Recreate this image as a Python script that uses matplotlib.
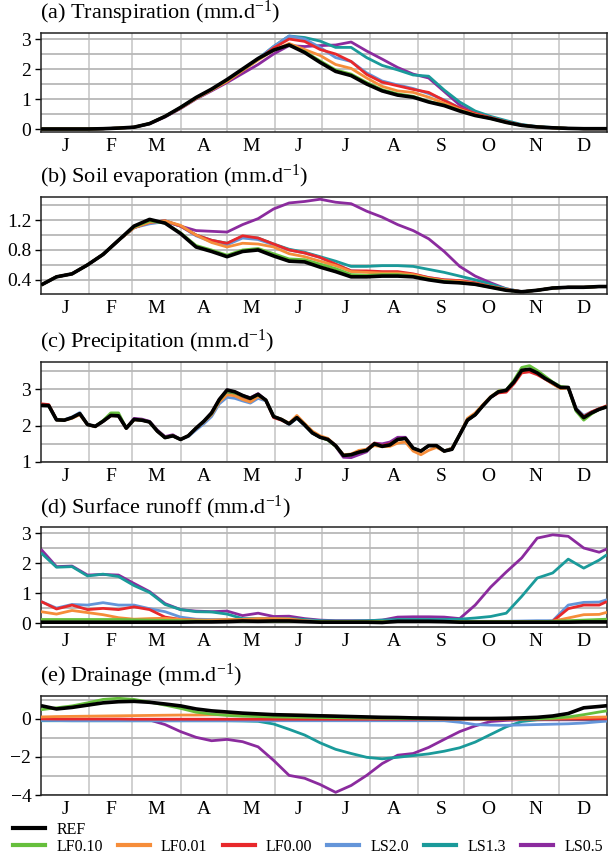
import numpy as np
import matplotlib
matplotlib.use('Agg')
import matplotlib.pyplot as plt
from matplotlib.lines import Line2D

# fonts: serif (Times-like) everywhere, incl. the d^-1 superscript
plt.rcParams['font.family'] = ['Liberation Serif', 'DejaVu Serif']
plt.rcParams['mathtext.fontset'] = 'custom'
plt.rcParams['mathtext.rm'] = 'Liberation Serif'
plt.rcParams['mathtext.it'] = 'Liberation Serif:italic'
plt.rcParams['axes.unicode_minus'] = True

# sample days (day of year)
days10 = np.append(np.arange(0, 361, 10), 365)
days5 = np.arange(0, 366, 5)

month_starts = [0, 31, 59, 90, 120, 151, 181, 212, 243, 273, 304, 334, 365]
month_labels = ['J', 'F', 'M', 'A', 'M', 'J', 'J', 'A', 'S', 'O', 'N', 'D']

runs = ['REF', 'LF0.10', 'LF0.01', 'LF0.00', 'LS2.0', 'LS1.3', 'LS0.5']
colors = ['#000000', '#66bf3c', '#f68d3a', '#e8282b', '#6495d9', '#1a9a9a', '#8b2b9e']

# (a) transpiration, 10-day samples
trans_ref = [0.0, 0.0, 0.0, 0.0, 0.01, 0.03, 0.06, 0.18, 0.42, 0.72, 1.05, 1.33, 1.65, 2.0, 2.35, 2.63, 2.8, 2.55, 2.22, 1.92,
             1.78, 1.5, 1.27, 1.13, 1.06, 0.9, 0.78, 0.6, 0.45, 0.35, 0.22, 0.12, 0.07, 0.04, 0.02, 0.01, 0.01, 0.01]
trans_lf010 = [0.0, 0.0, 0.0, 0.0, 0.01, 0.03, 0.06, 0.18, 0.42, 0.72, 1.04, 1.32, 1.63, 1.98, 2.33, 2.63, 2.8, 2.58, 2.27, 1.97,
               1.83, 1.55, 1.31, 1.17, 1.09, 0.92, 0.8, 0.62, 0.46, 0.35, 0.22, 0.12, 0.07, 0.04, 0.02, 0.01, 0.01, 0.01]
trans_lf001 = [0.0, 0.0, 0.0, 0.0, 0.01, 0.03, 0.06, 0.18, 0.42, 0.7, 1.02, 1.3, 1.59, 1.95, 2.3, 2.62, 2.85, 2.65, 2.45, 2.15,
               2.02, 1.7, 1.42, 1.27, 1.22, 1.06, 0.86, 0.65, 0.48, 0.36, 0.23, 0.12, 0.07, 0.04, 0.02, 0.01, 0.01, 0.01]
trans_lf000 = [0.0, 0.0, 0.0, 0.0, 0.01, 0.03, 0.06, 0.18, 0.42, 0.7, 1.02, 1.3, 1.59, 1.95, 2.32, 2.7, 3.0, 2.92, 2.65, 2.5,
               2.25, 1.82, 1.56, 1.44, 1.32, 1.22, 0.95, 0.7, 0.52, 0.38, 0.24, 0.13, 0.07, 0.04, 0.02, 0.01, 0.01, 0.01]
trans_ls20 = [0.0, 0.0, 0.0, 0.0, 0.01, 0.03, 0.06, 0.18, 0.42, 0.7, 1.02, 1.3, 1.6, 1.96, 2.34, 2.75, 3.1, 3.0, 2.72, 2.38,
              2.25, 1.87, 1.6, 1.47, 1.35, 1.18, 0.97, 0.7, 0.52, 0.38, 0.24, 0.13, 0.07, 0.04, 0.02, 0.01, 0.01, 0.01]
trans_ls13 = [0.0, 0.0, 0.0, 0.0, 0.01, 0.03, 0.06, 0.18, 0.42, 0.7, 1.02, 1.3, 1.6, 1.96, 2.34, 2.75, 3.1, 3.05, 2.93, 2.72,
              2.72, 2.38, 2.12, 1.97, 1.8, 1.76, 1.3, 0.9, 0.6, 0.42, 0.28, 0.15, 0.08, 0.05, 0.02, 0.01, 0.01, 0.01]
trans_ls05 = [0.0, 0.0, 0.0, 0.0, 0.01, 0.03, 0.06, 0.17, 0.4, 0.68, 1.0, 1.27, 1.55, 1.85, 2.15, 2.5, 2.78, 2.75, 2.78, 2.8,
              2.9, 2.6, 2.33, 2.05, 1.83, 1.7, 1.25, 0.8, 0.52, 0.38, 0.25, 0.13, 0.07, 0.04, 0.02, 0.01, 0.01, 0.01]

# (b) soil evaporation, 10-day samples
evap_ref = [0.33, 0.44, 0.48, 0.6, 0.74, 0.93, 1.12, 1.21, 1.16, 1.02, 0.84, 0.78, 0.71, 0.78, 0.8, 0.72, 0.65, 0.64, 0.57, 0.51,
            0.44, 0.44, 0.45, 0.45, 0.44, 0.4, 0.37, 0.36, 0.34, 0.3, 0.26, 0.24, 0.26, 0.29, 0.3, 0.3, 0.31, 0.31]
evap_lf010 = [0.33, 0.44, 0.48, 0.6, 0.74, 0.93, 1.11, 1.19, 1.16, 1.03, 0.86, 0.8, 0.73, 0.8, 0.82, 0.75, 0.68, 0.67, 0.61, 0.55,
              0.47, 0.46, 0.47, 0.47, 0.45, 0.41, 0.38, 0.36, 0.34, 0.3, 0.26, 0.24, 0.26, 0.29, 0.3, 0.3, 0.31, 0.31]
evap_lf001 = [0.33, 0.44, 0.48, 0.6, 0.74, 0.93, 1.1, 1.17, 1.19, 1.13, 1.0, 0.9, 0.84, 0.89, 0.88, 0.84, 0.75, 0.71, 0.65, 0.59,
              0.51, 0.5, 0.49, 0.49, 0.47, 0.42, 0.39, 0.38, 0.35, 0.31, 0.27, 0.24, 0.26, 0.29, 0.3, 0.3, 0.31, 0.31]
evap_lf000 = [0.33, 0.44, 0.48, 0.6, 0.74, 0.93, 1.1, 1.17, 1.19, 1.12, 1.0, 0.93, 0.89, 0.99, 0.96, 0.88, 0.8, 0.76, 0.7, 0.61,
              0.52, 0.52, 0.51, 0.51, 0.48, 0.43, 0.4, 0.39, 0.36, 0.31, 0.27, 0.24, 0.26, 0.29, 0.3, 0.3, 0.31, 0.31]
evap_ls20 = [0.33, 0.44, 0.48, 0.6, 0.74, 0.93, 1.1, 1.15, 1.18, 1.12, 0.99, 0.91, 0.87, 0.96, 0.94, 0.87, 0.8, 0.76, 0.7, 0.61,
             0.52, 0.51, 0.5, 0.5, 0.47, 0.43, 0.4, 0.39, 0.36, 0.31, 0.27, 0.24, 0.26, 0.29, 0.3, 0.3, 0.31, 0.31]
evap_ls13 = [0.33, 0.44, 0.48, 0.6, 0.74, 0.93, 1.1, 1.17, 1.19, 1.12, 1.0, 0.93, 0.89, 0.98, 0.96, 0.88, 0.81, 0.77, 0.71, 0.65,
             0.58, 0.58, 0.59, 0.59, 0.58, 0.54, 0.5, 0.45, 0.4, 0.34, 0.28, 0.24, 0.26, 0.29, 0.3, 0.3, 0.31, 0.31]
evap_ls05 = [0.33, 0.44, 0.48, 0.6, 0.74, 0.93, 1.1, 1.17, 1.19, 1.12, 1.06, 1.05, 1.04, 1.14, 1.22, 1.35, 1.43, 1.45, 1.48, 1.44,
             1.42, 1.32, 1.24, 1.14, 1.06, 0.95, 0.78, 0.58, 0.45, 0.36, 0.28, 0.24, 0.26, 0.29, 0.3, 0.3, 0.31, 0.31]

# (c) precipitation, 5-day samples
precip_ref = [2.56, 2.55, 2.16, 2.15, 2.22, 2.33, 2.03, 1.98, 2.12, 2.28, 2.27, 1.93, 2.17, 2.15, 2.10, 1.85, 1.67, 1.72, 1.62, 1.72,
              1.93, 2.12, 2.35, 2.72, 2.98, 2.93, 2.83, 2.75, 2.86, 2.70, 2.25, 2.17, 2.05, 2.22, 2.02, 1.80, 1.68, 1.62, 1.45, 1.18,
              1.20, 1.27, 1.32, 1.50, 1.43, 1.47, 1.62, 1.65, 1.38, 1.30, 1.45, 1.45, 1.30, 1.35, 1.75, 2.15, 2.30, 2.55, 2.78, 2.93,
              2.97, 3.20, 3.52, 3.55, 3.45, 3.30, 3.18, 3.05, 3.05, 2.45, 2.22, 2.35, 2.45, 2.52]
precip_lf010 = [2.56, 2.55, 2.16, 2.15, 2.22, 2.33, 2.03, 1.98, 2.14, 2.35, 2.35, 1.93, 2.17, 2.15, 2.10, 1.85, 1.67, 1.72, 1.62, 1.72,
                1.93, 2.12, 2.33, 2.7, 2.95, 2.9, 2.82, 2.75, 2.85, 2.7, 2.25, 2.17, 2.05, 2.22, 2.02, 1.8, 1.68, 1.6, 1.43, 1.18,
                1.2, 1.27, 1.32, 1.5, 1.43, 1.47, 1.62, 1.65, 1.38, 1.3, 1.45, 1.45, 1.3, 1.35, 1.75, 2.15, 2.3, 2.55, 2.78, 2.95,
                2.98, 3.25, 3.6, 3.65, 3.52, 3.36, 3.2, 3.08, 3.05, 2.4, 2.15, 2.32, 2.45, 2.52]
precip_lf001 = [2.56, 2.55, 2.16, 2.15, 2.2, 2.3, 2.03, 1.97, 2.12, 2.27, 2.27, 1.93, 2.16, 2.15, 2.1, 1.85, 1.67, 1.72, 1.62, 1.72,
                1.92, 2.1, 2.3, 2.65, 2.85, 2.82, 2.72, 2.65, 2.8, 2.7, 2.25, 2.18, 2.07, 2.28, 2.06, 1.85, 1.72, 1.65, 1.45, 1.2,
                1.22, 1.32, 1.35, 1.45, 1.42, 1.43, 1.52, 1.55, 1.3, 1.2, 1.32, 1.4, 1.3, 1.38, 1.75, 2.2, 2.35, 2.58, 2.8, 2.95,
                2.97, 3.2, 3.5, 3.55, 3.45, 3.3, 3.15, 3.02, 3.04, 2.45, 2.22, 2.35, 2.45, 2.52]
precip_lf000 = [2.6, 2.58, 2.16, 2.15, 2.22, 2.33, 2.03, 1.98, 2.12, 2.28, 2.27, 1.93, 2.17, 2.15, 2.1, 1.85, 1.67, 1.72, 1.62, 1.72,
                1.93, 2.12, 2.35, 2.72, 2.95, 2.9, 2.8, 2.73, 2.85, 2.7, 2.22, 2.15, 2.05, 2.25, 2.03, 1.82, 1.7, 1.63, 1.45, 1.18,
                1.2, 1.27, 1.35, 1.52, 1.45, 1.5, 1.62, 1.65, 1.38, 1.3, 1.45, 1.45, 1.3, 1.35, 1.75, 2.15, 2.3, 2.55, 2.78, 2.9,
                2.92, 3.15, 3.45, 3.48, 3.4, 3.28, 3.15, 3.03, 3.05, 2.45, 2.25, 2.38, 2.47, 2.55]
precip_ls20 = [2.55, 2.55, 2.16, 2.16, 2.24, 2.36, 2.03, 1.98, 2.12, 2.28, 2.27, 1.93, 2.17, 2.15, 2.1, 1.85, 1.67, 1.72, 1.62, 1.7,
               1.88, 2.05, 2.25, 2.6, 2.78, 2.75, 2.68, 2.62, 2.75, 2.68, 2.25, 2.17, 2.03, 2.2, 2.0, 1.8, 1.68, 1.62, 1.45, 1.18,
               1.2, 1.27, 1.32, 1.5, 1.43, 1.47, 1.62, 1.65, 1.38, 1.3, 1.45, 1.45, 1.3, 1.38, 1.75, 2.15, 2.3, 2.55, 2.78, 2.93,
               2.97, 3.2, 3.5, 3.55, 3.45, 3.3, 3.18, 3.05, 3.05, 2.48, 2.28, 2.38, 2.45, 2.52]
precip_ls13 = [2.56, 2.55, 2.16, 2.15, 2.22, 2.33, 2.03, 1.98, 2.12, 2.28, 2.27, 1.93, 2.17, 2.15, 2.1, 1.85, 1.67, 1.72, 1.62, 1.72,
               1.92, 2.1, 2.32, 2.68, 2.88, 2.85, 2.78, 2.7, 2.83, 2.7, 2.25, 2.17, 2.05, 2.22, 2.02, 1.8, 1.68, 1.62, 1.45, 1.18,
               1.2, 1.27, 1.32, 1.5, 1.43, 1.47, 1.62, 1.65, 1.38, 1.3, 1.45, 1.45, 1.3, 1.38, 1.75, 2.15, 2.3, 2.55, 2.78, 2.93,
               2.97, 3.2, 3.52, 3.55, 3.45, 3.3, 3.18, 3.05, 3.05, 2.45, 2.22, 2.35, 2.45, 2.52]
precip_ls05 = [2.56, 2.55, 2.16, 2.15, 2.22, 2.33, 2.03, 1.98, 2.12, 2.28, 2.27, 1.93, 2.2, 2.18, 2.12, 1.88, 1.7, 1.75, 1.62, 1.72,
               1.93, 2.12, 2.35, 2.72, 2.98, 2.93, 2.83, 2.77, 2.88, 2.7, 2.25, 2.17, 2.05, 2.22, 2.02, 1.8, 1.68, 1.62, 1.43, 1.13,
               1.12, 1.2, 1.28, 1.52, 1.5, 1.55, 1.68, 1.68, 1.38, 1.3, 1.45, 1.45, 1.3, 1.35, 1.75, 2.15, 2.3, 2.55, 2.78, 2.93,
               2.97, 3.2, 3.52, 3.55, 3.45, 3.3, 3.18, 3.05, 3.05, 2.45, 2.22, 2.35, 2.45, 2.52]

# (d) surface runoff, 10-day samples
runoff_ref = [0.03, 0.03, 0.03, 0.03, 0.03, 0.03, 0.03, 0.03, 0.03, 0.03, 0.04, 0.04, 0.05, 0.07, 0.06, 0.07, 0.07, 0.05, 0.03, 0.03,
              0.03, 0.03, 0.02, 0.06, 0.06, 0.06, 0.05, 0.03, 0.03, 0.03, 0.03, 0.03, 0.03, 0.03, 0.03, 0.04, 0.04, 0.04]
runoff_lf010 = [0.12, 0.12, 0.12, 0.12, 0.12, 0.12, 0.11, 0.1, 0.09, 0.08, 0.07, 0.06, 0.06, 0.06, 0.06, 0.06, 0.06, 0.05, 0.05, 0.05,
                0.05, 0.05, 0.05, 0.05, 0.05, 0.05, 0.05, 0.05, 0.05, 0.05, 0.05, 0.05, 0.05, 0.06, 0.08, 0.1, 0.12, 0.13]
runoff_lf001 = [0.38, 0.3, 0.42, 0.35, 0.28, 0.18, 0.13, 0.15, 0.16, 0.12, 0.1, 0.1, 0.12, 0.12, 0.15, 0.15, 0.14, 0.08, 0.05, 0.05,
                0.05, 0.05, 0.05, 0.05, 0.05, 0.05, 0.05, 0.05, 0.05, 0.05, 0.05, 0.05, 0.05, 0.06, 0.17, 0.28, 0.29, 0.36]
runoff_lf000 = [0.72, 0.47, 0.6, 0.45, 0.49, 0.45, 0.54, 0.45, 0.2, 0.12, 0.1, 0.08, 0.08, 0.08, 0.08, 0.08, 0.07, 0.06, 0.05, 0.05,
                0.05, 0.05, 0.05, 0.05, 0.05, 0.05, 0.05, 0.05, 0.05, 0.05, 0.05, 0.05, 0.05, 0.06, 0.48, 0.6, 0.6, 0.72]
runoff_ls20 = [0.72, 0.5, 0.62, 0.6, 0.68, 0.6, 0.6, 0.48, 0.38, 0.2, 0.13, 0.12, 0.12, 0.1, 0.12, 0.12, 0.1, 0.08, 0.06, 0.06,
               0.06, 0.06, 0.06, 0.07, 0.07, 0.07, 0.07, 0.06, 0.06, 0.06, 0.06, 0.07, 0.08, 0.08, 0.6, 0.69, 0.7, 0.78]
runoff_ls13 = [2.34, 1.86, 1.88, 1.57, 1.63, 1.55, 1.25, 1.02, 0.62, 0.45, 0.38, 0.37, 0.3, 0.15, 0.15, 0.15, 0.15, 0.12, 0.08, 0.07,
               0.07, 0.08, 0.1, 0.12, 0.12, 0.12, 0.12, 0.13, 0.17, 0.22, 0.33, 0.89, 1.5, 1.67, 2.13, 1.83, 2.1, 2.28]
runoff_ls05 = [2.46, 1.88, 1.9, 1.6, 1.62, 1.6, 1.32, 1.05, 0.65, 0.45, 0.4, 0.38, 0.4, 0.25, 0.33, 0.22, 0.23, 0.15, 0.1, 0.08,
               0.08, 0.08, 0.1, 0.2, 0.21, 0.21, 0.2, 0.15, 0.6, 1.2, 1.7, 2.17, 2.83, 2.94, 2.89, 2.5, 2.36, 2.47]

# (e) drainage, 10-day samples
drain_ref = [0.69, 0.52, 0.6, 0.72, 0.84, 0.9, 0.92, 0.87, 0.78, 0.68, 0.52, 0.42, 0.36, 0.3, 0.26, 0.22, 0.2, 0.18, 0.16, 0.14,
             0.12, 0.1, 0.08, 0.07, 0.05, 0.04, 0.03, 0.02, 0.02, 0.02, 0.03, 0.05, 0.08, 0.15, 0.28, 0.58, 0.65, 0.69]
drain_lf010 = [0.48, 0.58, 0.68, 0.84, 1.02, 1.08, 1.02, 0.88, 0.72, 0.55, 0.35, 0.25, 0.18, 0.14, 0.12, 0.1, 0.09, 0.08, 0.07, 0.06,
               0.05, 0.04, 0.03, 0.02, 0.01, 0.0, 0.0, 0.0, 0.0, 0.0, 0.0, 0.0, 0.0, 0.03, 0.1, 0.22, 0.36, 0.42]
drain_lf001 = [0.1, 0.12, 0.13, 0.14, 0.15, 0.16, 0.17, 0.18, 0.19, 0.2, 0.2, 0.21, 0.21, 0.21, 0.21, 0.2, 0.2, 0.19, 0.17, 0.14,
               0.11, 0.08, 0.05, 0.03, 0.02, 0.01, 0.01, 0.01, 0.01, 0.01, 0.01, 0.01, 0.02, 0.03, 0.05, 0.07, 0.09, 0.1]
drain_lf000 = [0.0, -0.01, -0.01, -0.01, -0.01, -0.01, -0.02, -0.02, -0.02, -0.02, -0.02, -0.02, -0.02, -0.02, -0.02, -0.02, -0.02, -0.02, -0.02, -0.02,
               -0.02, -0.02, -0.02, -0.02, -0.02, -0.02, -0.02, -0.02, -0.02, -0.02, -0.02, -0.02, -0.02, -0.02, -0.01, -0.01, 0.0, 0.0]
drain_ls20 = [-0.08, -0.09, -0.1, -0.1, -0.1, -0.1, -0.1, -0.1, -0.1, -0.1, -0.1, -0.1, -0.1, -0.1, -0.1, -0.1, -0.1, -0.1, -0.1, -0.1,
              -0.1, -0.1, -0.1, -0.1, -0.1, -0.1, -0.1, -0.18, -0.3, -0.33, -0.34, -0.32, -0.3, -0.28, -0.26, -0.22, -0.15, -0.12]
drain_ls13 = [-0.1, -0.1, -0.1, -0.1, -0.1, -0.1, -0.1, -0.1, -0.1, -0.1, -0.1, -0.1, -0.1, -0.11, -0.13, -0.27, -0.55, -0.85, -1.26, -1.6,
              -1.82, -2.02, -2.1, -2.02, -1.93, -1.84, -1.7, -1.52, -1.22, -0.82, -0.42, -0.14, -0.05, -0.03, -0.02, -0.02, -0.02, -0.02]
drain_ls05 = [-0.05, -0.05, -0.05, -0.05, -0.05, -0.05, -0.05, -0.06, -0.3, -0.67, -0.97, -1.15, -1.08, -1.2, -1.47, -2.18, -2.97, -3.12, -3.45, -3.86,
              -3.5, -2.97, -2.35, -1.91, -1.82, -1.5, -1.08, -0.67, -0.37, -0.14, -0.08, -0.05, -0.05, -0.05, -0.05, -0.05, -0.05, -0.05]

# panel definitions: title, x samples, series (in run order), ylim, major ticks, extra grid lines
panels = [
    ('(a) Transpiration (mm.d$^{-1}$)', days10,
     [trans_ref, trans_lf010, trans_lf001, trans_lf000, trans_ls20, trans_ls13, trans_ls05],
     (-0.1, 3.2), [0, 1, 2, 3], [0.5, 1.5, 2.5]),
    ('(b) Soil evaporation (mm.d$^{-1}$)', days10,
     [evap_ref, evap_lf010, evap_lf001, evap_lf000, evap_ls20, evap_ls13, evap_ls05],
     (0.21, 1.51), [0.4, 0.8, 1.2], [0.6, 1.0, 1.4]),
    ('(c) Precipitation (mm.d$^{-1}$)', days5,
     [precip_ref, precip_lf010, precip_lf001, precip_lf000, precip_ls20, precip_ls13, precip_ls05],
     (1.0, 3.75), [1, 2, 3], [1.5, 2.5, 3.5]),
    ('(d) Surface runoff (mm.d$^{-1}$)', days10,
     [runoff_ref, runoff_lf010, runoff_lf001, runoff_lf000, runoff_ls20, runoff_ls13, runoff_ls05],
     (-0.13, 3.2), [0, 1, 2, 3], [0.5, 1.5, 2.5]),
    ('(e) Drainage (mm.d$^{-1}$)', days10,
     [drain_ref, drain_lf010, drain_lf001, drain_lf000, drain_ls20, drain_ls13, drain_ls05],
     (-4.0, 1.2), [-4, -2, 0], [-3, -1, 1]),
]

# axes boxes in pixels (top, bottom) of a 609x856 figure
W, H = 609, 856
boxes = [(33, 132), (197, 294), (362, 462), (527, 627), (696, 795)]
left_px, right_px = 41, 607

fig = plt.figure(figsize=(W / 100, H / 100), dpi=100)

mid_month = [(a + b) / 2 for a, b in zip(month_starts[:-1], month_starts[1:])]

for (title, x, series, ylim, major, minor), (top, bot) in zip(panels, boxes):
    ax = fig.add_axes([left_px / W, 1 - bot / H, (right_px - left_px) / W, (bot - top) / H])

    # draw the experiments back to front, reference on top
    for i in range(len(runs) - 1, 0, -1):
        ax.plot(x, series[i], color=colors[i], lw=2.0, solid_capstyle='butt', zorder=3)
    ax.plot(x, series[0], color=colors[0], lw=2.6, solid_capstyle='butt', zorder=4)

    ax.set_xlim(0, 365)
    ax.set_ylim(*ylim)

    # month boundaries for grid, month initials in the middle
    ax.set_xticks(month_starts[1:-1])
    ax.set_xticklabels([])
    ax.set_xticks(mid_month, minor=True)
    ax.set_xticklabels(month_labels, minor=True)
    ax.tick_params(axis='x', which='both', length=0, labelsize=14, pad=4)

    ax.set_yticks(major)
    ax.set_yticks(minor, minor=True)
    ax.tick_params(axis='y', which='major', length=4, width=1, labelsize=14, pad=3)
    ax.tick_params(axis='y', which='minor', length=0)

    ax.grid(True, axis='x', which='major', color='#c8c8c8', lw=1.2, zorder=0)
    ax.grid(True, axis='y', which='both', color='#b8b8b8', lw=1.3, zorder=0)
    ax.set_axisbelow(True)
    for sp in ax.spines.values():
        sp.set_color('#222222')
        sp.set_linewidth(1.1)

    ax.annotate(title, xy=(0, 1), xycoords='axes fraction', xytext=(-1, 4),
                textcoords='offset points', ha='left', va='bottom', fontsize=16)

# legend: REF alone on the first row, the six experiments on the second
handles = [Line2D([], [], color=c, lw=3.0) for c in colors]
fig.legend([handles[0]], [runs[0]], loc='center left', bbox_to_anchor=(13 / W, 1 - 830 / H),
           frameon=False, fontsize=11.5, handlelength=2.0, handletextpad=0.7,
           borderpad=0, borderaxespad=0)
fig.legend(handles[1:], runs[1:], loc='center left', bbox_to_anchor=(13 / W, 1 - 847 / H),
           ncol=6, frameon=False, fontsize=11.5, handlelength=2.0, handletextpad=0.7,
           columnspacing=0.95, borderpad=0, borderaxespad=0)

fig.savefig('out.png', dpi=100)
plt.close()
